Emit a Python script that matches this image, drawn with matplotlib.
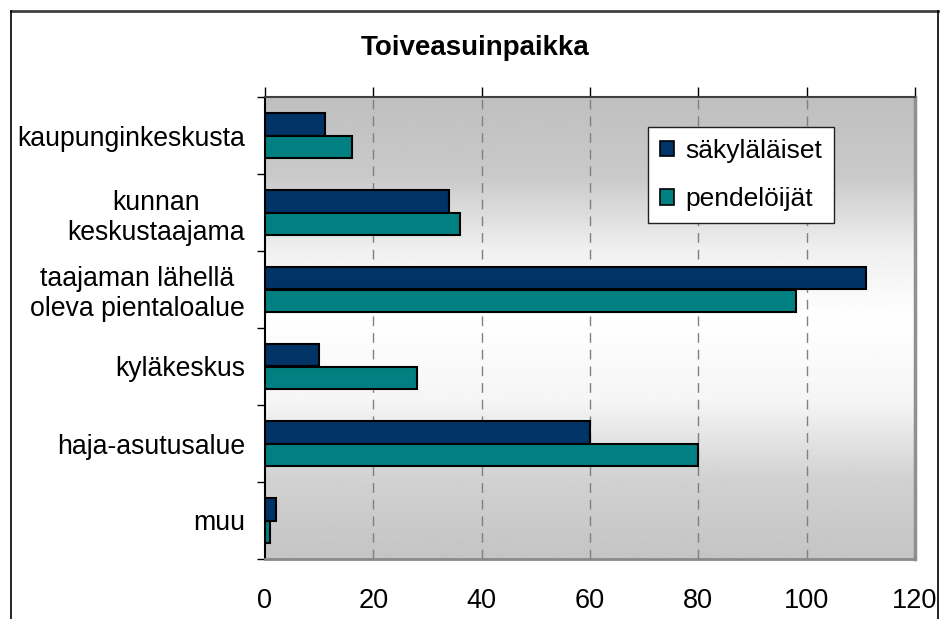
import matplotlib
matplotlib.use("Agg")
import matplotlib.pyplot as plt
from matplotlib.patches import Patch
from matplotlib.lines import Line2D
import numpy as np

plt.rcParams['font.family'] = ['Liberation Sans', 'DejaVu Sans']

# data
categories = ["kaupunginkeskusta", "kunnan\nkeskustaajama", "taajaman lähellä\noleva pientaloalue",
              "kyläkeskus", "haja-asutusalue", "muu"]
sakylalaiset = [11, 34, 111, 10, 60, 2]
pendeloijat = [16, 36, 98, 28, 80, 1]
series_names = ["säkyläläiset", "pendelöijät"]
x_ticks = [0, 20, 40, 60, 80, 100, 120]

W, H = 940, 619
fig = plt.figure(figsize=(W / 100, H / 100), dpi=100)
fig.patch.set_facecolor('white')

# plot area in pixel coordinates
left, right, top, bottom = 265, 915, 97, 559
ax = fig.add_axes([left / W, 1 - bottom / H, (right - left) / W, (bottom - top) / H])

# vertical grey-white-grey gradient like the Excel fill
stops_pos = [0.0, 0.17, 0.33, 0.48, 0.66, 0.83, 1.0]
stops_val = [0.75, 0.79, 0.94, 1.0, 0.96, 0.82, 0.77]
grad = np.interp(np.linspace(0, 1, 300), stops_pos, stops_val).reshape(-1, 1)
ax.imshow(grad, extent=[0, 120, len(categories) - 0.5, -0.5], aspect='auto',
          cmap='gray', vmin=0, vmax=1, zorder=0, interpolation='bilinear')

y = np.arange(len(categories))
h = 0.295
ax.barh(y - h / 2, sakylalaiset, height=h, color='#003366', edgecolor='black', linewidth=1.5, zorder=3)
ax.barh(y + h / 2, pendeloijat, height=h, color='#008080', edgecolor='black', linewidth=1.5, zorder=3)

ax.set_xlim(0, 120)
ax.set_ylim(len(categories) - 0.5, -0.5)

# dashed vertical gridlines
for v in x_ticks[1:-1]:
    ax.axvline(v, color='#808080', linewidth=1, dashes=(7, 5), zorder=1)

# x axis: ticks on top edge, labels far below
ax.set_xticks(x_ticks)
ax.set_xticklabels([str(v) for v in x_ticks])
ax.tick_params(axis='x', direction='out', length=7, width=1, top=True, bottom=False,
               labeltop=False, labelbottom=True, pad=14, labelsize=19.5)

# y axis: category labels, ticks at the category boundaries
ax.set_yticks(y)
ax.set_yticklabels(categories, multialignment='center')
ax.tick_params(axis='y', which='major', length=0, pad=14.5, labelsize=19.2)
ax.set_yticks(np.arange(-0.5, len(categories)), minor=True)
ax.tick_params(axis='y', which='minor', direction='out', length=6, width=1)

ax.spines['left'].set_color('black')
ax.spines['left'].set_linewidth(1.5)
ax.spines['top'].set_color('#404040')
ax.spines['top'].set_linewidth(1.5)
ax.spines['right'].set_color('#909090')
ax.spines['right'].set_linewidth(2.5)
ax.spines['bottom'].set_color('#8a8a8a')
ax.spines['bottom'].set_linewidth(2)

# title
fig.text(475 / W, 1 - 48 / H, "Toiveasuinpaikka", ha='center', va='center',
         fontsize=20, fontweight='bold')

# legend
handles = [Patch(facecolor='#003366', edgecolor='black', linewidth=1.2),
           Patch(facecolor='#008080', edgecolor='black', linewidth=1.2)]
leg = fig.legend(handles, series_names, loc='upper left',
                 bbox_to_anchor=(648 / W, 1 - 127 / H), borderaxespad=0,
                 fontsize=19, frameon=True, fancybox=False, shadow=False, framealpha=1,
                 handlelength=0.55, handleheight=0.55, handletextpad=0.4,
                 labelspacing=0.92, borderpad=0.45)
leg.get_frame().set_facecolor('white')
leg.get_frame().set_edgecolor('#202020')
leg.get_frame().set_linewidth(1)

# outer chart frame
fig.add_artist(Line2D([11 / W, 938 / W], [1 - 11 / H, 1 - 11 / H], transform=fig.transFigure,
                      color='#404040', linewidth=2))
fig.add_artist(Line2D([11 / W, 11 / W], [1 - 11 / H, 0], transform=fig.transFigure,
                      color='black', linewidth=1.2))
fig.add_artist(Line2D([938 / W, 938 / W], [1 - 11 / H, 0], transform=fig.transFigure,
                      color='black', linewidth=1.2))

fig.savefig("out.png", dpi=100)
